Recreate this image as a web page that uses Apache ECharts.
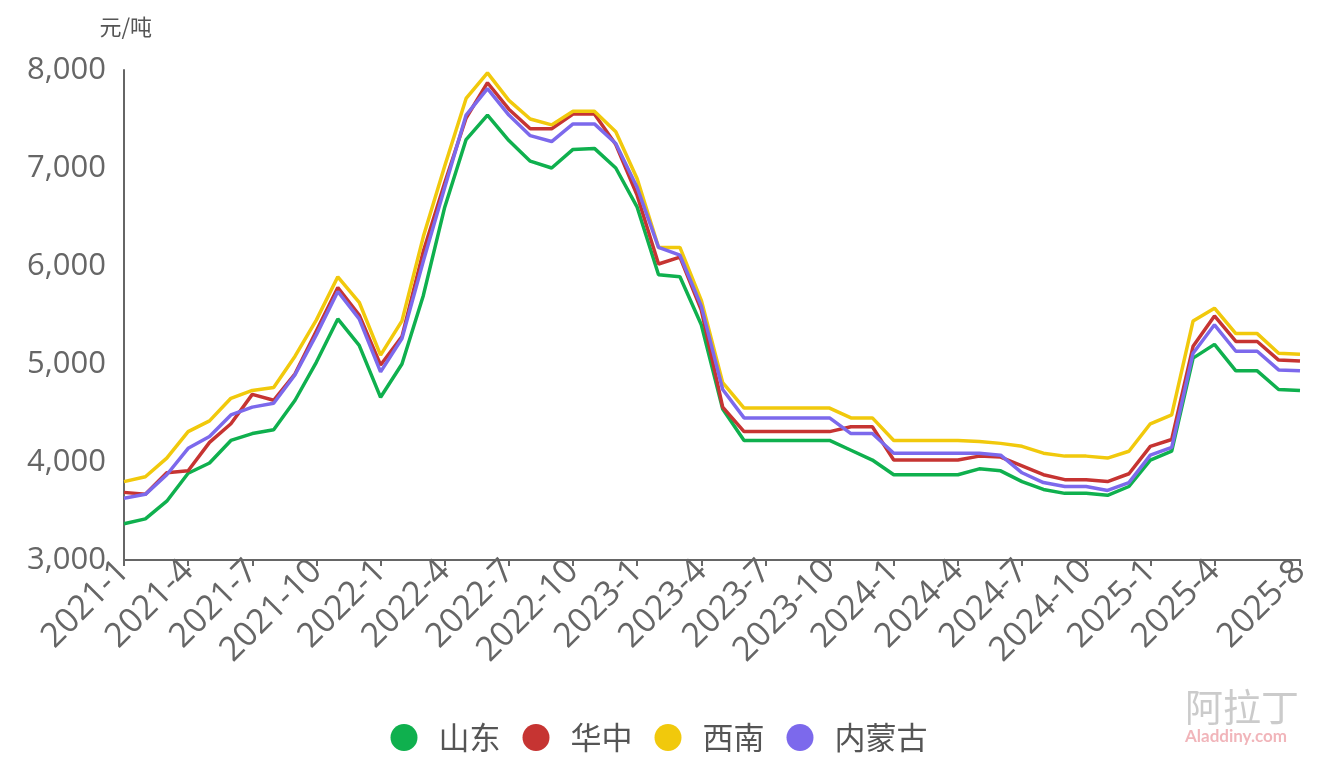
<!DOCTYPE html>
<html>
<head>
<meta charset="utf-8">
<script src="https://cdn.jsdelivr.net/npm/echarts@6/dist/echarts.min.js"></script>
<style>html,body{margin:0;padding:0;background:#fff;}#c{width:1318px;height:758px;}</style>
</head>
<body>
<div id="c"></div>
<script>
var categories = [];
for (var y = 2021; y <= 2025; y++) {
  for (var m = 1; m <= 12; m++) {
    if (y === 2025 && m > 8) break;
    categories.push(y + '-' + m);
  }
}
var seriesNames = ['山东', '华中', '西南', '内蒙古'];
var shandong = [3370,3420,3600,3885,3990,4220,4290,4330,4630,5020,5460,5190,4660,5000,5700,6600,7290,7540,7280,7070,7000,7190,7200,7000,6600,5910,5890,5400,4540,4220,4220,4220,4220,4220,4120,4020,3870,3870,3870,3870,3930,3910,3800,3720,3680,3680,3660,3750,4020,4110,5060,5200,4930,4930,4740,4730];
var huazhong = [3690,3670,3890,3910,4200,4390,4690,4630,4900,5340,5780,5500,4990,5280,6150,6850,7510,7870,7600,7400,7400,7550,7550,7240,6720,6020,6090,5550,4560,4310,4310,4310,4310,4310,4360,4360,4020,4020,4020,4020,4060,4050,3960,3870,3820,3820,3800,3880,4160,4230,5180,5490,5230,5230,5040,5030];
var xinan = [3800,3850,4040,4310,4420,4650,4730,4760,5080,5450,5890,5630,5090,5440,6300,7020,7710,7970,7690,7500,7440,7580,7580,7370,6890,6190,6190,5650,4810,4550,4550,4550,4550,4550,4450,4450,4220,4220,4220,4220,4210,4190,4160,4090,4060,4060,4040,4110,4390,4480,5440,5570,5310,5310,5110,5100];
var neimenggu = [3630,3670,3870,4140,4260,4480,4560,4600,4890,5300,5740,5460,4920,5260,6050,6800,7540,7810,7540,7330,7270,7450,7450,7250,6800,6190,6110,5590,4740,4450,4450,4450,4450,4450,4290,4290,4090,4090,4090,4090,4090,4070,3890,3790,3750,3750,3710,3790,4070,4150,5110,5400,5130,5130,4940,4930];
var colors = ['#0fb04e', '#c63432', '#f1c90c', '#7c69ec'];
var yTicks = [3000, 4000, 5000, 6000, 7000, 8000];

function showLabel(i) { return (i % 3 === 0 && i !== 54) || i === 55; }

var chart = echarts.init(document.getElementById('c'));
var dataArr = [shandong, huazhong, xinan, neimenggu];
chart.setOption({
  animation: false,
  color: colors,
  grid: { left: 124, right: 18, top: 70, bottom: 198, containLabel: false },
  legend: {
    top: 717, left: 'center',
    icon: 'circle', itemWidth: 27, itemHeight: 27, itemGap: 22,
    textStyle: { fontSize: 31, color: '#555', padding: [0, 0, 0, 16], fontFamily: 'Noto Sans CJK SC' },
    data: seriesNames
  },
  xAxis: {
    type: 'category', boundaryGap: false, data: categories,
    axisLine: { lineStyle: { color: '#666', width: 2 } },
    axisTick: { length: 6, lineStyle: { color: '#666', width: 2 }, interval: function (i) { return showLabel(i); } },
    axisLabel: { rotate: 45, fontSize: 34, color: '#666', margin: 6, fontFamily: 'Open Sans', interval: function (i) { return showLabel(i); } }
  },
  yAxis: {
    type: 'value', min: yTicks[0], max: yTicks[yTicks.length - 1], interval: 1000,
    name: '元/吨', nameLocation: 'end', nameGap: 32,
    nameTextStyle: { fontSize: 22, color: '#555', align: 'right', padding: [0, -28, 0, 0], fontFamily: 'Noto Sans CJK SC' },
    axisLine: { show: true, lineStyle: { color: '#666', width: 2 } },
    axisTick: { show: false },
    splitLine: { show: false },
    axisLabel: { fontSize: 31, color: '#666', margin: 18, fontFamily: 'Open Sans',
      formatter: function (v) { return v.toLocaleString('en-US'); } }
  },
  graphic: [
    { type: 'text', left: 1185, top: 688, style: { text: '阿拉丁', fontSize: 38, fill: 'rgba(140,140,140,0.45)', fontFamily: 'Noto Sans CJK SC' } },
    { type: 'text', left: 1185, top: 728, style: { text: 'Aladdiny.com', fontSize: 17, fontWeight: 'bold', fill: 'rgba(230,120,130,0.55)', fontFamily: 'Lato' } }
  ],
  series: seriesNames.map(function (n, k) {
    return { name: n, type: 'line', data: dataArr[k], showSymbol: false, symbol: 'none',
      lineStyle: { width: 3.5, color: colors[k] }, itemStyle: { color: colors[k] } };
  })
});
</script>
</body>
</html>
